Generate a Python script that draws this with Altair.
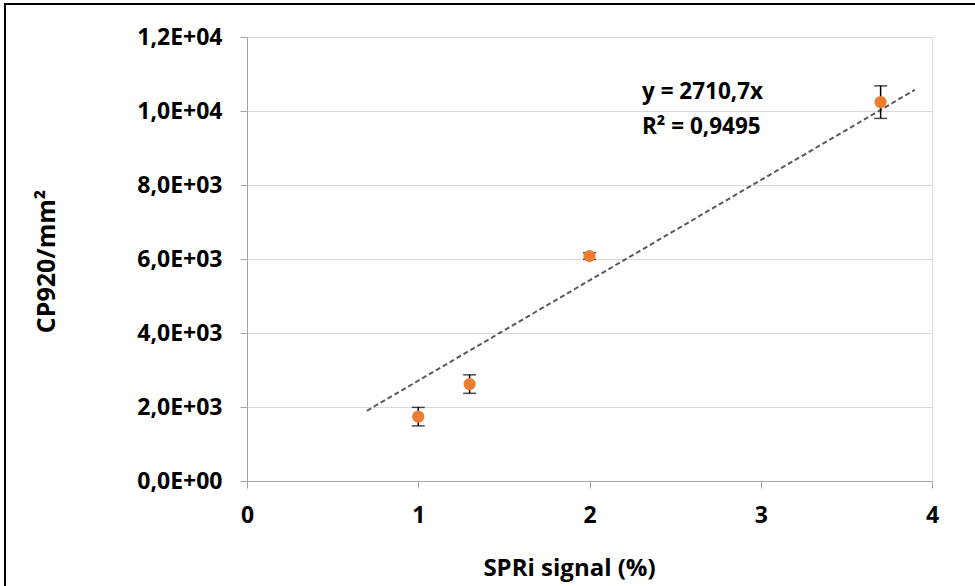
import json
import altair as alt
import pandas as pd

# data
spr_signal = [1.0, 1.3, 2.0, 3.7]
cp920 = [1740, 2620, 6080, 10240]
cp920_err = [250, 250, 90, 440]

trend_x = [0.7, 3.9]
slope = 2710.7

y_ticks = [0, 2000, 4000, 6000, 8000, 10000, 12000]
y_tick_labels = ["0,0E+00", "2,0E+03", "4,0E+03", "6,0E+03", "8,0E+03", "1,0E+04", "1,2E+04"]
x_ticks = [0, 1, 2, 3, 4]

eq_lines = ["y = 2710,7x", "R² = 0,9495"]

FONT = "Open Sans"

df = pd.DataFrame({
    "x": spr_signal,
    "y": cp920,
    "lo": [v - e for v, e in zip(cp920, cp920_err)],
    "hi": [v + e for v, e in zip(cp920, cp920_err)],
})
trend = pd.DataFrame({"x": trend_x})

label_map = json.dumps(y_tick_labels)

xscale = alt.Scale(domain=[0, 4], nice=False, zero=False)
yscale = alt.Scale(domain=[0, 12000], nice=False)

xaxis = alt.Axis(
    values=x_ticks, format="d", title="SPRi signal (%)", grid=False, labelFlush=False,
    domainColor="#a6a6a6", tickColor="#a6a6a6", tickSize=7, labelPadding=16,
    labelFont=FONT, labelFontSize=23, labelFontWeight="bold", labelColor="black",
    titleFont=FONT, titleFontSize=24, titleFontWeight="bold", titleColor="black",
    titleX=322, titleAlign="center", titleY=87, titleBaseline="middle",
)
yaxis = alt.Axis(
    values=y_ticks, labelExpr=f"{label_map}[round(datum.value/2000)]", labelFlush=False,
    title="CP920/mm²", grid=True, gridColor="#d9d9d9",
    domainColor="#a6a6a6", tickColor="#a6a6a6", tickSize=7, labelPadding=18,
    labelFont=FONT, labelFontSize=23, labelFontWeight="bold", labelColor="black",
    titleFont=FONT, titleFontSize=25, titleFontWeight="bold", titleColor="black",
    titleX=-201, titleY=224, titleAngle=270, titleAlign="center", titleBaseline="middle",
)

base = alt.Chart(df)

trend_line = alt.Chart(trend).transform_calculate(
    y=f"{slope} * datum.x"
).mark_line(color="#595959", strokeWidth=2, strokeDash=[5, 3]).encode(
    x=alt.X("x:Q", scale=xscale, axis=xaxis),
    y=alt.Y("y:Q", scale=yscale, axis=yaxis),
)

err_rule = base.mark_rule(color="black", strokeWidth=1.5).encode(
    x="x:Q", y="lo:Q", y2="hi:Q"
)
cap_lo = base.mark_tick(color="black", orient="horizontal", size=13, thickness=1.5).encode(
    x="x:Q", y="lo:Q"
)
cap_hi = base.mark_tick(color="black", orient="horizontal", size=13, thickness=1.5).encode(
    x="x:Q", y="hi:Q"
)
points = base.mark_circle(color="#ED7D31", opacity=1, size=150).encode(
    x="x:Q", y="y:Q"
)

eq_df = pd.DataFrame({"t": eq_lines, "i": [0, 1]})
eq_text = alt.Chart(eq_df).transform_calculate(
    py="55 + datum.i * 35"
).mark_text(
    align="left", baseline="middle", font=FONT, fontSize=22.5, fontWeight="bold", color="black"
).encode(
    text="t:N", x=alt.value(395), y=alt.Y("py:Q", scale=None),
)

border = alt.Chart(alt.Data(values=[{}])).mark_rect(
    fill=None, stroke="black", strokeWidth=2, clip=False
).encode(
    x=alt.value(-242), x2=alt.value(800), y=alt.value(-33), y2=alt.value(620)
)

chart = alt.layer(border, trend_line, err_rule, cap_lo, cap_hi, points, eq_text).properties(
    width=685, height=444,
    padding={"left": 247, "top": 37, "right": 43, "bottom": 105},
    autosize=alt.AutoSizeParams(type="none"),
).configure_view(stroke=None).configure(background="white")

chart.save("out.html", embed_options={"renderer": "svg", "actions": False})
